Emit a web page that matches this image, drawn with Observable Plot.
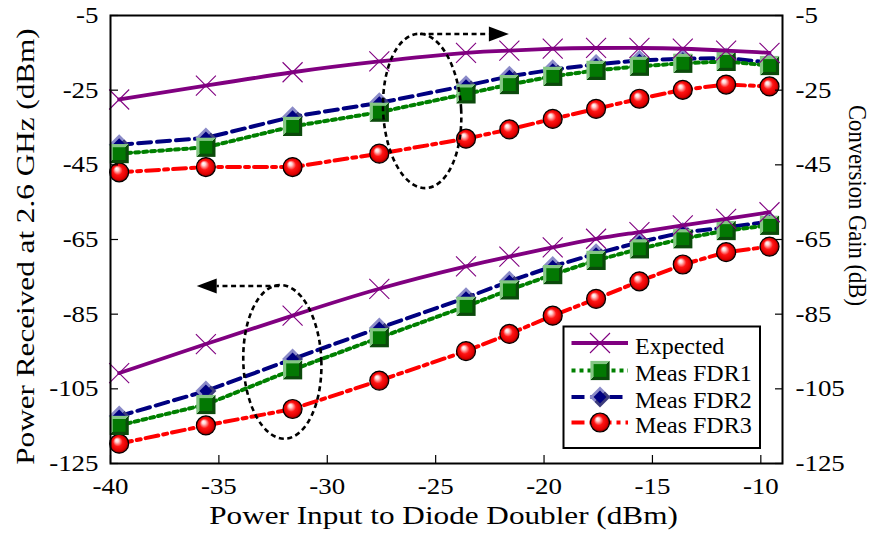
<!DOCTYPE html>
<html><head><meta charset="utf-8">
<script src="https://cdn.jsdelivr.net/npm/d3@7"></script>
<script src="https://cdn.jsdelivr.net/npm/@observablehq/plot@0.6"></script>
<style>html,body{margin:0;padding:0;background:#fff;} #chart{position:relative;width:884px;height:546px;}</style>
</head><body><div id="chart"></div>
<script>
// ---------- data ----------
const xInput = [-39.6, -35.6, -31.6, -27.6, -23.6, -21.6, -19.6, -17.6, -15.6, -13.6, -11.6, -9.6];
const gainExpected = [-27.5, -23.8, -20.2, -17.3, -15.0, -14.4, -13.9, -13.7, -13.7, -13.9, -14.4, -15.0];
const gainFDR1 = [-42.0, -40.3, -34.7, -30.9, -26.0, -23.5, -21.3, -19.7, -18.6, -17.8, -17.3, -18.4];
const gainFDR2 = [-39.6, -37.8, -32.1, -28.4, -23.8, -21.3, -19.5, -18.1, -17.0, -16.6, -16.4, -17.6];
const gainFDR3 = [-47.0, -45.6, -45.6, -42.0, -38.0, -35.5, -32.7, -30.0, -27.3, -24.9, -23.5, -24.0];
const rxExpected = [-100.8, -93.0, -85.4, -78.2, -72.2, -69.6, -67.1, -64.8, -63.0, -61.2, -59.5, -57.7];
const rxFDR1 = [-114.8, -109.2, -99.9, -91.3, -82.9, -78.5, -74.4, -70.6, -67.5, -64.8, -62.6, -61.2];
const rxFDR2 = [-112.3, -105.6, -97.0, -88.7, -80.6, -76.2, -72.2, -68.8, -65.7, -63.1, -61.8, -60.2];
const rxFDR3 = [-119.7, -114.8, -110.4, -102.8, -94.9, -90.3, -85.4, -80.9, -76.2, -71.7, -68.4, -66.9];
const seriesNames = ["Expected", "Meas FDR1", "Meas FDR2", "Meas FDR3"];
const xTicks = [-40, -35, -30, -25, -20, -15, -10];
const yTicks = [-5, -25, -45, -65, -85, -105, -125];
const xTitle = "Power Input to Diode Doubler (dBm)";
const yTitleLeft = "Power Received at 2.6 GHz (dBm)";
const yTitleRight = "Conversion Gain (dB)";
// annotation shapes, in data units
const annotEllipses = [
  {cx: -25.6, cy: -30.7, rx: 1.8, ry: 20.7, rot: -3},
  {cx: -32.05, cy: -97.9, rx: 1.8, ry: 20.6, rot: -2}
];
const annotArrows = [
  {x1: -25.7, x2: -21.6, y: -10.1},
  {x1: -32.2, x2: -36.0, y: -77.6}
];

// ---------- table ----------
function rowsFor(name, gain, rx) {
  const r = [];
  xInput.forEach((x, i) => r.push({series: name, group: name + "-gain", x, y: gain[i]}));
  xInput.forEach((x, i) => r.push({series: name, group: name + "-rx", x, y: rx[i]}));
  return r;
}
const rowsExp = rowsFor(seriesNames[0], gainExpected, rxExpected);
const rowsF1 = rowsFor(seriesNames[1], gainFDR1, rxFDR1);
const rowsF2 = rowsFor(seriesNames[2], gainFDR2, rxFDR2);
const rowsF3 = rowsFor(seriesNames[3], gainFDR3, rxFDR3);

// ---------- symbols ----------
const mkSym = (fn) => ({draw(ctx, size) { fn(ctx, Math.sqrt(size / Math.PI)); }});
const symSquare = mkSym((c, r) => { c.moveTo(-r, -r); c.lineTo(r, -r); c.lineTo(r, r); c.lineTo(-r, r); c.closePath(); });
const symDiamond = mkSym((c, r) => { c.moveTo(0, -r); c.lineTo(r, 0); c.lineTo(0, r); c.lineTo(-r, 0); c.closePath(); });
const symX = mkSym((c, r) => { c.moveTo(-r, -r); c.lineTo(r, r); c.moveTo(r, -r); c.lineTo(-r, r); });
const symCircle = mkSym((c, r) => { c.moveTo(r, 0); c.arc(0, 0, r, 0, 2 * Math.PI); });

const st = {
  "Expected": {stroke: "#800080", width: 3.8, dash: null, curve: "natural"},
  "Meas FDR1": {stroke: "#008000", width: 4, dash: "4,4", curve: "linear"},
  "Meas FDR2": {stroke: "#000080", width: 4, dash: "13,6", curve: "linear"},
  "Meas FDR3": {stroke: "#ff0000", width: 4, dash: "13,5,4,5", curve: "linear"}
};
const lineMark = (rows, name) => Plot.line(rows, {x: "x", y: "y", z: "group", stroke: st[name].stroke,
  strokeWidth: st[name].width, strokeDasharray: st[name].dash, curve: st[name].curve});

const markerMarks = {
  "Expected": (rows) => [Plot.dot(rows, {x: "x", y: "y", symbol: symX, r: 10, stroke: "#800080", strokeWidth: 1.1, fill: "none"})],
  "Meas FDR1": (rows) => [Plot.dot(rows, {x: "x", y: "y", symbol: symSquare, r: 9.6, fill: "url(#gSq)", stroke: "none"}),
                          Plot.dot(rows, {x: "x", y: "y", symbol: symSquare, r: 6.4, fill: "#037803", stroke: "none"})],
  "Meas FDR2": (rows) => [Plot.dot(rows, {x: "x", y: "y", symbol: symDiamond, r: 10.5, fill: "url(#gDm)", stroke: "none"}),
                          Plot.dot(rows, {x: "x", y: "y", symbol: symDiamond, r: 6.5, fill: "#000080", stroke: "none"})],
  "Meas FDR3": (rows) => [Plot.dot(rows, {x: "x", y: "y", symbol: symCircle, r: 9.5, fill: "url(#gCi)", stroke: "black", strokeWidth: 1.2})]
};
const fmt = d => `${d}`;

const plot = Plot.plot({
  width: 884, height: 546,
  marginLeft: 110, marginRight: 102, marginTop: 15, marginBottom: 83,
  style: {fontFamily: "Liberation Serif", fontSize: "23px", background: "white", color: "black", overflow: "visible"},
  x: {domain: [-40, -9]},
  y: {domain: [-125, -5]},
  marks: [
    lineMark(rowsF3, "Meas FDR3"), ...markerMarks["Meas FDR3"](rowsF3),
    lineMark(rowsF2, "Meas FDR2"), ...markerMarks["Meas FDR2"](rowsF2),
    lineMark(rowsF1, "Meas FDR1"), ...markerMarks["Meas FDR1"](rowsF1),
    lineMark(rowsExp, "Expected"), ...markerMarks["Expected"](rowsExp),
    Plot.frame({stroke: "black", strokeWidth: 2}),
    Plot.axisX(xTicks, {tickSize: -8, tickPadding: 22, label: null, strokeWidth: 1.2, tickFormat: fmt}),
    Plot.axisY(yTicks, {anchor: "left", tickSize: -8, tickPadding: 20, label: null, strokeWidth: 1.2, tickFormat: fmt}),
    Plot.axisY(yTicks, {anchor: "right", tickSize: -8, tickPadding: 21, label: null, strokeWidth: 1.2, tickFormat: fmt}),
    Plot.text([xTitle], {text: d => d, frameAnchor: "bottom", textAnchor: "middle", dx: -3, dy: 60, fontSize: 26}),
    Plot.text([yTitleLeft], {text: d => d, frameAnchor: "left", textAnchor: "middle", rotate: -90, dx: -85, dy: 7, fontSize: 26}),
    Plot.text([yTitleRight], {text: d => d, frameAnchor: "right", textAnchor: "middle", rotate: 90, dx: 75, dy: -34, fontSize: 26})
  ]
});
plot.setAttribute("font-family", "Liberation Serif");
document.getElementById("chart").appendChild(plot);

const svg = d3.select(plot);
// gradients
const defs = svg.insert("defs", ":first-child");
function linGrad(id, c1, c2) {
  const g = defs.append("linearGradient").attr("id", id).attr("x1", 0).attr("y1", 0).attr("x2", 1).attr("y2", 1);
  [[0, c1], [0.5, c1], [0.5, c2], [1, c2]].forEach(([o, c]) => g.append("stop").attr("offset", o).attr("stop-color", c));
}
linGrad("gSq", "#84c684", "#0b4a0b");
linGrad("gDm", "#8a8ac8", "#3c3c7c");
const rg = defs.append("radialGradient").attr("id", "gCi").attr("cx", 0.5).attr("cy", 0.5).attr("r", 0.5).attr("fx", 0.36).attr("fy", 0.3);
[[0, "#ffffff"], [0.18, "#ffd6d6"], [0.5, "#ff1414"], [0.82, "#e00000"], [1, "#7a0000"]].forEach(([o, c]) => rg.append("stop").attr("offset", o).attr("stop-color", c));

// horizontal (reading-direction) scaling of the serif text, as in the reference
svg.selectAll("text").each(function () {
  const txt = this.textContent;
  const s = (txt === xTitle || txt === yTitleLeft) ? 1.2 : (txt === yTitleRight ? 0.87 : 1.17);
  let t = this.getAttribute("transform") || "";
  const x = this.getAttribute("x"), y = this.getAttribute("y");
  let tx = 0, ty = 0;
  if (x != null && !isNaN(+x)) { tx = +x; this.removeAttribute("x"); }
  if (y != null && !isNaN(+y)) { ty = +y; this.removeAttribute("y"); }
  this.setAttribute("transform", `${t} translate(${tx},${ty}) scale(${s},1)`);
});

// annotations
const xs = plot.scale("x"), ys = plot.scale("y");
const X = v => xs.apply(v), Y = v => ys.apply(v);
const ann = svg.append("g").attr("fill", "none").attr("stroke", "black");
annotEllipses.forEach(e => {
  const cx = X(e.cx), cy = Y(e.cy);
  ann.append("ellipse").attr("cx", cx).attr("cy", cy)
    .attr("rx", Math.abs(X(e.cx + e.rx) - cx)).attr("ry", Math.abs(Y(e.cy + e.ry) - cy))
    .attr("transform", `rotate(${e.rot},${cx},${cy})`)
    .attr("stroke-width", 2.6).attr("stroke-dasharray", "5,3.6");
});
annotArrows.forEach(a => {
  const x1 = X(a.x1), x2 = X(a.x2), y = Y(a.y);
  const dir = Math.sign(x2 - x1), head = 20, hw = 7.5;
  ann.append("line").attr("x1", x1).attr("x2", x2 - dir * head).attr("y1", y).attr("y2", y)
    .attr("stroke-width", 2.6).attr("stroke-dasharray", "5,3.6");
  ann.append("path").attr("d", `M${x2},${y}L${x2 - dir * head},${y - hw}L${x2 - dir * head},${y + hw}Z`)
    .attr("fill", "black").attr("stroke", "none");
});

// legend
const lgG = svg.append("g").attr("text-anchor", "start").attr("font-family", "Liberation Serif");
lgG.append("rect").attr("x", 563.5).attr("y", 326.5).attr("width", 196.5).attr("height", 121.5)
  .attr("fill", "white").attr("stroke", "black").attr("stroke-width", 2);
const entryY = [343, 370.5, 397, 422.5];
const symPath = (sym, r) => d3.symbol().type(sym).size(r * r * Math.PI)();
seriesNames.forEach((name, i) => {
  const y = entryY[i], s = st[name];
  const g = lgG.append("g");
  g.append("line").attr("x1", 571.5).attr("x2", 628).attr("y1", y).attr("y2", y)
    .attr("stroke", s.stroke).attr("stroke-width", s.width).attr("stroke-dasharray", s.dash);
  const m = g.append("g").attr("transform", `translate(600,${y})`);
  if (name === "Expected") m.append("path").attr("d", symPath(symX, 10)).attr("stroke", "#800080").attr("stroke-width", 1.1).attr("fill", "none");
  if (name === "Meas FDR1") { m.append("path").attr("d", symPath(symSquare, 9.6)).attr("fill", "url(#gSq)"); m.append("path").attr("d", symPath(symSquare, 6.4)).attr("fill", "#037803"); }
  if (name === "Meas FDR2") { m.append("path").attr("d", symPath(symDiamond, 10.5)).attr("fill", "url(#gDm)"); m.append("path").attr("d", symPath(symDiamond, 6.5)).attr("fill", "#000080"); }
  if (name === "Meas FDR3") m.append("path").attr("d", symPath(symCircle, 9.5)).attr("fill", "url(#gCi)").attr("stroke", "black").attr("stroke-width", 1.2);
  g.append("text").attr("x", 635).attr("y", y + 2.5).attr("dy", "0.35em").attr("font-size", 24).attr("fill", "black").text(name);
});
</script>
</body></html>
